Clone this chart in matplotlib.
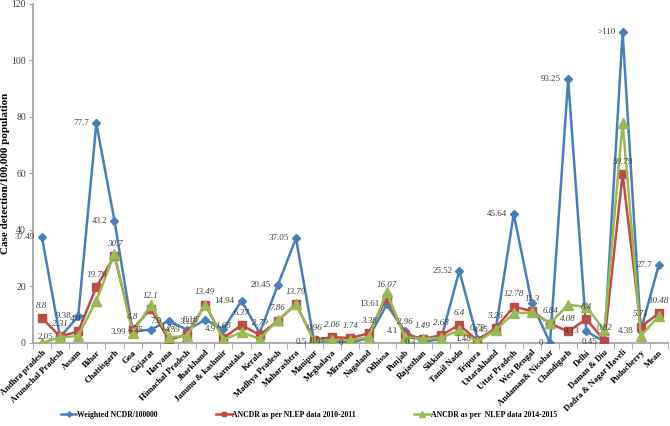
import numpy as np
import matplotlib.pyplot as plt

states = ['Andhra pradesh', 'Arunachal Pradesh', 'Assam', 'Bihar', 'Chattisgarh', 'Goa',
          'Gujarat', 'Haryana', 'Himachal Pradesh', 'Jharkhand', 'Jammu & kashmir',
          'Karnataka', 'Kerala', 'Madhya Pradesh', 'Maharashtra', 'Manipur', 'Meghalaya',
          'Mizoram', 'Nagaland', 'Odhissa', 'Punjab', 'Rajasthan', 'Sikkim', 'Tamil Nadu',
          'Tripura', 'Uttarakhand', 'Uttar Pradesh', 'West Bengal', 'Andaman& Nicobar',
          'Chandigarh', 'Delhi', 'Daman & Diu', 'Dadra & Nagar Haveli', 'Puducherry', 'Mean']

weighted = [37.49, 2.05, 9.38, 77.7, 43.2, 3.99, 4.75, 7.9, 4.59, 8.18, 4.9, 14.94, 3.5,
            20.45, 37.05, 0.5, 0.67, 0.0, 1.8, 13.61, 4.1, 0.3, 1.5, 25.52, 1.48, 4.45,
            45.64, 14.0, 0.0, 93.25, 4.13, 0.45, 110.0, 4.38, 27.7]
weighted_lbl = ['37.49', '2.05', '9.38', '77.7', '43.2', '3.99', '4.75', '7.9', '4.59', '8.18',
                '4.9', '14.94', '', '20.45', '37.05', '0.5', '0.67', '0', '', '13.61', '4.1',
                '0.3', '', '25.52', '1.48', '4.45', '45.64', '', '0', '93.25', '4.13', '0.45',
                '>110', '4.38', '27.7']

ancdr_1011 = [8.8, 2.31, 4.07, 19.79, 30.7, 4.8, 12.1, 1.0, 3.12, 13.49, 1.68, 6.37, 2.79,
              7.86, 13.79, 0.96, 2.06, 1.74, 3.38, 16.07, 2.96, 1.49, 2.68, 6.4, 0.79, 5.26,
              12.78, 11.3, 6.84, 4.08, 8.4, 0.82, 59.79, 5.71, 10.48]
ancdr_1011_lbl = ['8.8', '2.31', '4.07', '19.79', '30.7', '4.8', '12.1', '1.27', '3.12', '13.49',
                  '1.68', '6.37', '2.79', '7.86', '13.79', '0.96', '2.06', '1.74', '3.38',
                  '16.07', '2.96', '1.49', '2.68', '6.4', '0.79', '5.26', '12.78', '11.3',
                  '6.84', '4.08', '8.4', '0.82', '59.79', '5.71', '10.48']

ancdr_1415 = [0.0, 2.0, 2.5, 15.0, 31.5, 3.5, 13.5, 2.0, 2.5, 13.5, 1.2, 3.72, 1.5, 8.0,
              13.7, 0.8, 1.0, 1.0, 2.0, 18.0, 2.0, 1.5, 1.8, 4.5, 0.5, 4.5, 10.5, 10.8,
              7.0, 13.5, 12.7, 4.5, 78.0, 2.5, 9.5]

plt.rcParams['font.family'] = ['Liberation Serif', 'DejaVu Serif']

fig = plt.figure(figsize=(6.7, 4.26), dpi=100)
ax = fig.add_axes([0.049, 0.195, 0.948, 0.796])

x = np.arange(len(states))
blue, red, green = '#4A7EBB', '#BE4B48', '#98B954'

ax.plot(x, weighted, color=blue, lw=1.8, marker='D', markersize=4.5, label='Weighted NCDR/100000', zorder=3)
ax.plot(x, ancdr_1011, color=red, lw=1.8, marker='s', markersize=6, label='ANCDR as per NLEP data 2010-2011', zorder=4)
ax.plot(x, ancdr_1415, color=green, lw=1.8, marker='^', markersize=6.5, label='ANCDR as per  NLEP data 2014-2015', zorder=5)

for xi, v, t in zip(x, weighted, weighted_lbl):
    if t:
        ax.annotate(t, (xi, v), xytext=(-5, 0), textcoords='offset points',
                    ha='right', va='center', fontsize=6.5, color='#404040', zorder=6)
for xi, v, t in zip(x, ancdr_1011, ancdr_1011_lbl):
    ax.annotate(t, (xi, v), xytext=(0, 6), textcoords='offset points',
                ha='center', va='bottom', fontsize=6.5, color='#404040', style='italic', zorder=6)

ax.set_xlim(-0.5, len(states) - 0.5)
ax.set_ylim(0, 120)
ax.set_yticks(range(0, 121, 20))
ax.set_xticks(x)
ax.set_xticklabels(states, rotation=45, ha='right', rotation_mode='anchor',
                   fontsize=6.2, fontweight='bold')
ax.tick_params(axis='y', labelsize=7, colors='#404040', length=3, pad=2, color='#A0A0A0')
ax.tick_params(axis='x', length=0, pad=4)
ax.set_xticks(np.arange(-0.5, len(states), 1), minor=True)
ax.tick_params(axis='x', which='minor', length=4, color='#A0A0A0')
for s in ['top', 'right']:
    ax.spines[s].set_visible(False)
for s in ['left', 'bottom']:
    ax.spines[s].set_color('#A0A0A0')
    ax.spines[s].set_linewidth(1.2)
ax.set_ylabel('Case detection/100,000 population', fontsize=8, fontweight='bold', labelpad=1)

fig.legend(loc='lower center', bbox_to_anchor=(0.461, 0.0), ncol=3, frameon=False,
           prop={'size': 5.6, 'weight': 'bold'}, columnspacing=7.5, handlelength=2.0,
           handletextpad=0.1, markerscale=0.6)

fig.savefig('out.png', dpi=100)
